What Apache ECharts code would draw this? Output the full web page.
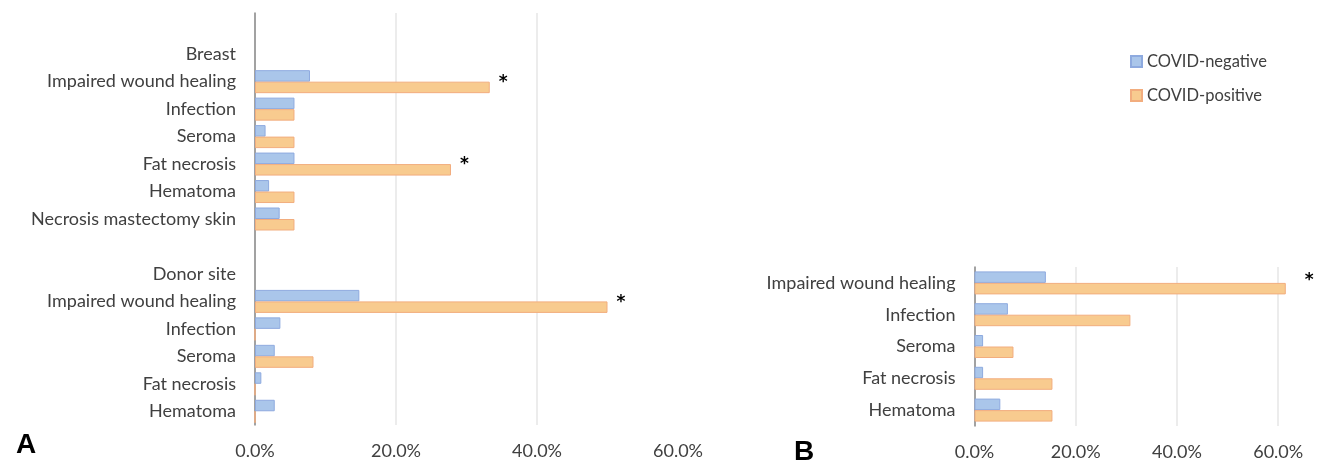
<!DOCTYPE html>
<html>
<head>
<meta charset="utf-8">
<script src="https://cdn.jsdelivr.net/npm/echarts@6/dist/echarts.min.js"></script>
<style>
html,body{margin:0;padding:0;background:#fff;}
#chart{width:1320px;height:461px;}
</style>
</head>
<body>
<div id="chart"></div>
<script>
// Panel A data
const categoriesA = ['', 'Breast', 'Impaired wound healing', 'Infection', 'Seroma', 'Fat necrosis', 'Hematoma', 'Necrosis mastectomy skin', '', 'Donor site', 'Impaired wound healing', 'Infection', 'Seroma', 'Fat necrosis', 'Hematoma'];
const negativeA = [null, null, 7.8, 5.6, 1.5, 5.6, 2.0, 3.5, null, null, 14.8, 3.6, 2.8, 0.9, 2.8];
const positiveA = [null, null, 33.3, 5.6, 5.6, 27.8, 5.6, 5.6, null, null, 50.0, 0, 8.3, 0, 0];
const significantA = [false, false, true, false, false, true, false, false, false, false, true, false, false, false, false];

// Panel B data
const categoriesB = ['Impaired wound healing', 'Infection', 'Seroma', 'Fat necrosis', 'Hematoma'];
const negativeB = [14.1, 6.6, 1.7, 1.7, 5.1];
const positiveB = [61.5, 30.8, 7.7, 15.4, 15.4];
const significantB = [true, false, false, false, false];

const tickValues = [0, 20, 40, 60];
const seriesNames = ['COVID-negative', 'COVID-positive'];

const FONT = 'Lato';
const TXT = '#404040';
const blueStyle = {color: '#aac6ea', borderColor: '#8eaadf', borderWidth: 1};
const orangeStyle = {color: '#f8cb8f', borderColor: '#f2ad7e', borderWidth: 1};

function pct(v){ return tickValues.indexOf(v) >= 0 ? v.toFixed(1) + '%' : ''; }

function starData(vals, sig){
  return vals.map((v, i) => ({value: v, label: {show: sig[i]}}));
}

const chart = echarts.init(document.getElementById('chart'), null, {renderer: 'canvas'});

const xAxisCommon = {
  type: 'value', min: 0, interval: 20,
  axisLine: {show: false}, axisTick: {show: false},
  splitLine: {show: true, showMaxLine: false, lineStyle: {color: '#e6e6e6', width: 1.5}},
  axisLabel: {color: TXT, fontFamily: FONT, fontSize: 18, margin: 17, formatter: pct, showMaxLabel: true}
};
const yAxisCommon = {
  type: 'category', inverse: true,
  axisLine: {show: true, lineStyle: {color: '#8a8a8a', width: 1.5}},
  axisTick: {show: false},
  axisLabel: {color: TXT, fontFamily: FONT, fontSize: 18, margin: 19, interval: 0}
};

chart.setOption({
  animation: false,
  backgroundColor: '#fff',
  legend: {
    orient: 'vertical', left: 1125, top: 48,
    itemWidth: 11, itemHeight: 11, itemGap: 17,
    icon: 'rect',
    textStyle: {color: TXT, fontFamily: FONT, fontSize: 16.5},
    data: seriesNames
  },
  grid: [
    {left: 255, top: 13, width: 423, bottom: 36, containLabel: false},
    {left: 974.5, top: 267, width: 329, bottom: 34, containLabel: false}
  ],
  xAxis: [
    Object.assign({}, xAxisCommon, {gridIndex: 0, max: 60}),
    Object.assign({}, xAxisCommon, {gridIndex: 1, max: 65})
  ],
  yAxis: [
    Object.assign({}, yAxisCommon, {gridIndex: 0, data: categoriesA}),
    Object.assign({}, yAxisCommon, {gridIndex: 1, data: categoriesB})
  ],
  graphic: [
    {type: 'text', left: 16, top: 431, style: {text: 'A', font: 'bold 28px "Liberation Sans"', fill: '#000'}},
    {type: 'text', left: 794, top: 438, style: {text: 'B', font: 'bold 28px "Liberation Sans"', fill: '#000'}}
  ],
  series: [
    {name: seriesNames[0], type: 'bar', xAxisIndex: 0, yAxisIndex: 0, data: negativeA,
      barWidth: 11.5, barGap: '0%', itemStyle: blueStyle},
    {name: seriesNames[1], type: 'bar', xAxisIndex: 0, yAxisIndex: 0, data: starData(positiveA, significantA),
      barWidth: 11.5, barGap: '0%', itemStyle: orangeStyle,
      label: {show: false, position: 'right', distance: 9, offset: [0, -5], formatter: '*',
        color: '#000', fontFamily: 'DejaVu Sans', fontSize: 17, fontWeight: 'bold'}},
    {name: seriesNames[0], type: 'bar', xAxisIndex: 1, yAxisIndex: 1, data: negativeB,
      barWidth: 11.5, barGap: '0%', itemStyle: blueStyle},
    {name: seriesNames[1], type: 'bar', xAxisIndex: 1, yAxisIndex: 1, data: starData(positiveB, significantB),
      barWidth: 11.5, barGap: '0%', itemStyle: orangeStyle,
      label: {show: false, position: 'right', distance: 19, offset: [0, -8], formatter: '*',
        color: '#000', fontFamily: 'DejaVu Sans', fontSize: 17, fontWeight: 'bold'}}
  ]
});
</script>
</body>
</html>
